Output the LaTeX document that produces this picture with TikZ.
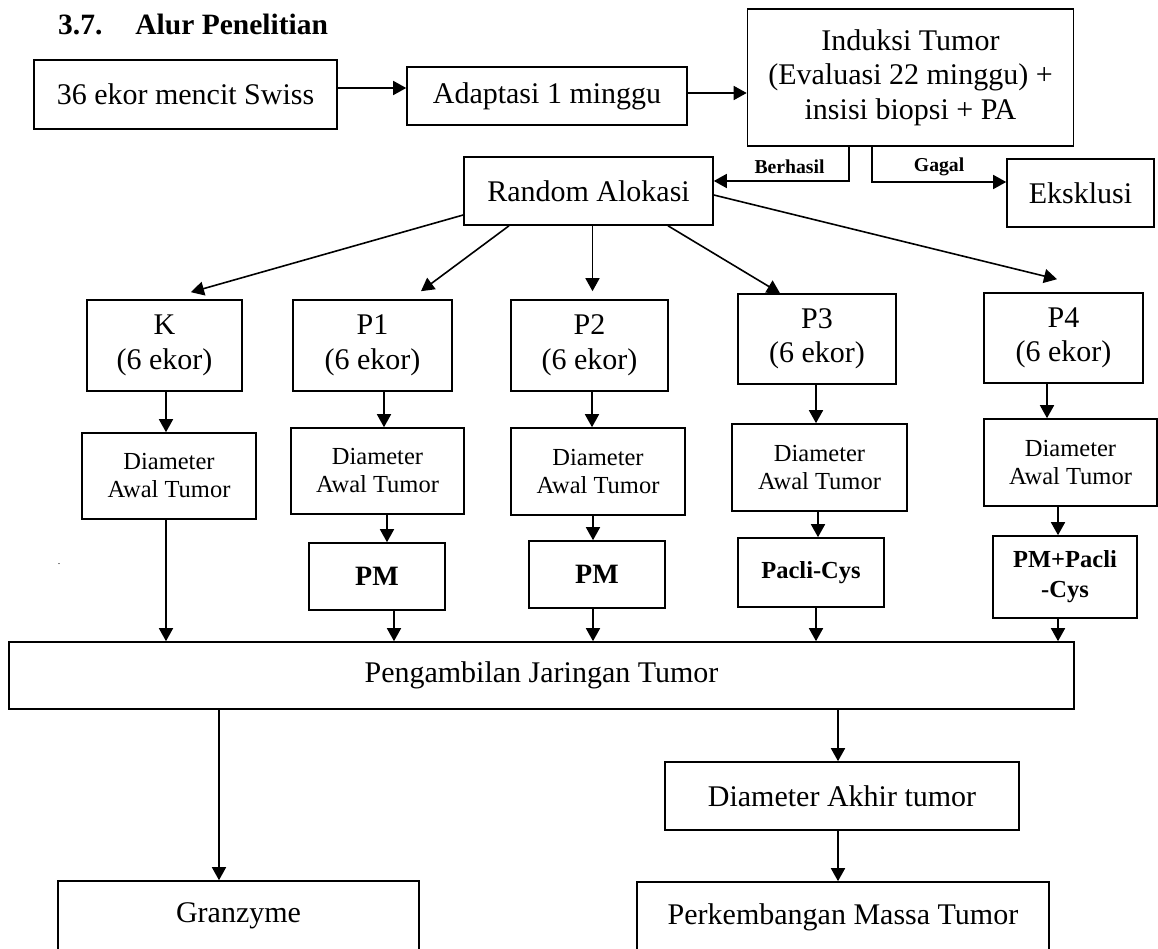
\documentclass[tikz,border=0pt]{standalone}
\usepackage{fontspec}
\setmainfont{Liberation Serif}
\usetikzlibrary{arrows.meta}
\tikzset{
  box/.style={draw, line width=1.6pt, inner sep=2pt, align=center, font=\fontsize{30}{34.5}\selectfont},
  sz/.style 2 args={minimum width=#1pt, minimum height=#2pt},
  small/.style={font=\fontsize{24.5}{28}\selectfont},
  tag/.style={font=\fontsize{19.7}{22}\selectfont\bfseries, inner sep=0pt},
  arr/.style={-{Triangle[length=13pt,width=14pt]}, line width=1.6pt},
}
\begin{document}
\begin{tikzpicture}[x=1pt, y=-1pt]
\useasboundingbox (0,0) rectangle (1158,949);
\clip (0,0) rectangle (1158,949);
\node[anchor=base west, inner sep=0pt, font=\fontsize{29.5}{32}\selectfont\bfseries] (judul) at (58,35) {3.7.\hspace{33pt}Alur Penelitian};
\node[anchor=base, inner sep=0pt, font=\fontsize{10}{10}\selectfont] (titik) at (59,564) {.};
% top row
\node[box, sz={303}{69}] (mencit) at (185.5,94.5) {36 ekor mencit Swiss};
\node[box, sz={280}{58}] (adaptasi) at (547,96) {Adaptasi 1 minggu};
\node[box, sz={326}{137}] (induksi) at (910.5,77.5) {Induksi Tumor\\(Evaluasi 22 minggu) +\\insisi biopsi + PA};
\node[box, sz={249}{68}] (random) at (588.5,191) {Random Alokasi};
\node[box, sz={147}{68}] (eksklusi) at (1080.5,193) {Eksklusi};
% groups
\node[box, sz={155}{91}] (K) at (164.5,345.5) {K\\(6 ekor)};
\node[box, sz={159}{91}] (P1) at (372.5,345.5) {P1\\(6 ekor)};
\node[box, sz={157}{91}] (P2) at (589.5,345.5) {P2\\(6 ekor)};
\node[box, sz={158}{90}] (P3) at (817,339) {P3\\(6 ekor)};
\node[box, sz={159}{90}] (P4) at (1063.5,338) {P4\\(6 ekor)};
\node[box, small, sz={174}{86}] (dK) at (169,476) {Diameter\\Awal Tumor};
\node[box, small, sz={173}{86}] (dP1) at (377.5,471) {Diameter\\Awal Tumor};
\node[box, small, sz={174}{87}] (dP2) at (598,471.5) {Diameter\\Awal Tumor};
\node[box, small, sz={175}{87}] (dP3) at (819.5,467.5) {Diameter\\Awal Tumor};
\node[box, small, sz={173}{87}] (dP4) at (1070.5,462.5) {Diameter\\Awal Tumor};
\node[box, sz={136}{67}, font=\fontsize{28}{30}\selectfont\bfseries] (tP1) at (377,576.5) {PM};
\node[box, sz={136}{67}, font=\fontsize{28}{30}\selectfont\bfseries] (tP2) at (597,574.5) {PM};
\node[box, sz={146}{69}, font=\fontsize{24.5}{30}\selectfont\bfseries] (tP3) at (811,572.5) {Pacli-Cys};
\node[box, sz={144}{82}, font=\fontsize{24.5}{30}\selectfont\bfseries] (tP4) at (1065,577) {PM+Pacli\\-Cys};
% bottom
\node[box, sz={1065}{67}] (peng) at (541.5,675.5) {Pengambilan Jaringan Tumor};
\node[box, sz={354}{68}] (akhir) at (842,796) {Diameter Akhir tumor};
\node[box, sz={361}{70}] (gran) at (238.5,916) {Granzyme};
\node[box, sz={412}{70}] (massa) at (843,917) {Perkembangan Massa Tumor};

\draw[arr] ([yshift=6.5pt]mencit.east) -- ([yshift=6.5pt]mencit.east -| adaptasi.west);
\draw[arr] ([yshift=3pt]adaptasi.east) -- ([yshift=3pt]adaptasi.east -| induksi.west);
\draw[arr] ([xshift=-61.5pt]induksi.south) |- node[tag, pos=0.72, above=7pt]{Berhasil} ([yshift=10pt]random.east);
\draw[arr] ([xshift=-38.5pt]induksi.south) |- node[tag, pos=0.75, above=5.5pt]{Gagal} ([yshift=11pt]eksklusi.west);

\draw[arr] ([yshift=-24pt]random.west) -- ([xshift=26.5pt,yshift=7pt]K.north);
\draw[arr] ([xshift=-79.5pt]random.south) -- ([xshift=48.5pt,yshift=8pt]P1.north);
\draw[arr] ([xshift=4pt]random.south) -- ([xshift=3pt,yshift=8pt]P2.north);
\draw[arr] ([xshift=79.5pt]random.south) -- ([xshift=-37pt]P3.north);
\draw[arr] ([yshift=-4pt]random.east) -- ([xshift=-6.5pt,yshift=13pt]P4.north);

\draw[arr] ([xshift=1.5pt]K.south) -- ([xshift=1.5pt]K.south |- dK.north);
\draw[arr] ([xshift=-3pt]dK.south) -- ([xshift=-3pt]dK.south |- peng.north);
\draw[arr] ([xshift=11.5pt]P1.south) -- ([xshift=11.5pt]P1.south |- dP1.north);
\draw[arr] ([xshift=9.5pt]dP1.south) -- ([xshift=9.5pt]dP1.south |- tP1.north);
\draw[arr] ([xshift=17pt]tP1.south) -- ([xshift=17pt]tP1.south |- peng.north);
\draw[arr] ([xshift=2.5pt]P2.south) -- ([xshift=2.5pt]P2.south |- dP2.north);
\draw[arr] ([xshift=-5pt]dP2.south) -- ([xshift=-5pt]dP2.south |- tP2.north);
\draw[arr] ([xshift=-4pt]tP2.south) -- ([xshift=-4pt]tP2.south |- peng.north);
\draw[arr] ([xshift=-1pt]P3.south) -- ([xshift=-1pt]P3.south |- dP3.north);
\draw[arr] ([xshift=-1.5pt]dP3.south) -- ([xshift=-1.5pt]dP3.south |- tP3.north);
\draw[arr] ([xshift=5pt]tP3.south) -- ([xshift=5pt]tP3.south |- peng.north);
\draw[arr] ([xshift=-16.5pt]P4.south) -- ([xshift=-16.5pt]P4.south |- dP4.north);
\draw[arr] ([xshift=-12.5pt]dP4.south) -- ([xshift=-12.5pt]dP4.south |- tP4.north);
\draw[arr] ([xshift=-7pt]tP4.south) -- ([xshift=-7pt]tP4.south |- peng.north);

\draw[arr] ([xshift=-19.5pt]gran.north |- peng.south) -- ([xshift=-19.5pt]gran.north);
\draw[arr] ([xshift=-4pt]akhir.north |- peng.south) -- ([xshift=-4pt]akhir.north);
\draw[arr] ([xshift=-4pt]akhir.south) -- ([xshift=-4pt]akhir.south |- massa.north);
\end{tikzpicture}
\end{document}
